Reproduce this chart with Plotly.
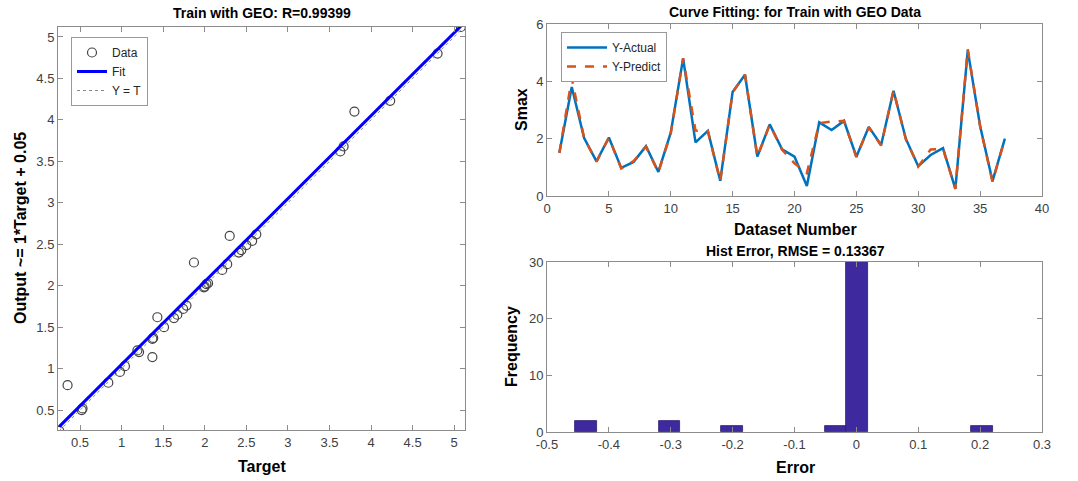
import plotly.graph_objects as go

# ---------------- data ----------------
dataset_number = list(range(1, 38))
y_actual = [1.51, 3.80, 2.02, 1.21, 2.04, 0.98, 1.19, 1.74, 0.84, 2.21,
            4.80, 1.87, 2.27, 0.53, 3.63, 4.23, 1.38, 2.50, 1.63, 1.37,
            0.35, 2.57, 2.30, 2.62, 1.37, 2.41, 1.78, 3.67, 1.99, 1.04,
            1.43, 1.67, 0.25, 5.08, 2.44, 0.52, 2.00]
y_predict = [1.50, 4.10, 2.02, 1.20, 2.03, 0.96, 1.22, 1.72, 0.83, 2.19,
             4.80, 2.28, 2.26, 0.52, 3.62, 4.23, 1.37, 2.49, 1.61, 1.14,
             0.80, 2.54, 2.60, 2.62, 1.36, 2.40, 1.76, 3.68, 1.98, 1.03,
             1.62, 1.65, 0.25, 5.12, 2.43, 0.50, 1.99]
fit_slope = 1.0
fit_intercept = 0.05

hist_centers = [-0.437, -0.302, -0.201, -0.033, 0.001, 0.203]
hist_counts = [2, 2, 1, 1, 30, 1]
hist_bin_width = 0.034

scatter_ticks = [0.5, 1, 1.5, 2, 2.5, 3, 3.5, 4, 4.5, 5]
line_xticks = [0, 5, 10, 15, 20, 25, 30, 35, 40]
line_yticks = [0, 2, 4, 6]
hist_xticks = [-0.5, -0.4, -0.3, -0.2, -0.1, 0, 0.1, 0.2, 0.3]
hist_xlabels = ["-0.5", "-0.4", "-0.3", "-0.2", "-0.1", "0", "0.1", "0.2", "0.3"]
hist_yticks = [0, 10, 20, 30]

# ---------------- figure ----------------
W, H = 1078, 481
FONT = "Liberation Sans, Arial, Helvetica, sans-serif"
TICKC = "#404040"
AXC = "#8c8c8c"

def px_x(p):
    return p / W

def px_y(p):
    return 1 - p / H

fig = go.Figure()

tmin, tmax = min(y_actual), max(y_actual)

# Left: regression plot
fig.add_trace(go.Scatter(
    x=y_actual, y=y_predict, mode="markers", name="Data",
    marker=dict(symbol="circle-open", size=9, color="#444444", line=dict(width=1.2)),
    xaxis="x", yaxis="y", legend="legend"))
fig.add_trace(go.Scatter(
    x=[tmin, tmax], y=[fit_slope * tmin + fit_intercept, fit_slope * tmax + fit_intercept],
    mode="lines", name="Fit", line=dict(color="#0000ff", width=3),
    xaxis="x", yaxis="y", legend="legend"))
fig.add_trace(go.Scatter(
    x=[tmin, tmax], y=[tmin, tmax], mode="lines", name="Y = T",
    line=dict(color="#888888", width=1, dash="dot"),
    xaxis="x", yaxis="y", legend="legend"))

# Top right: curve fitting
fig.add_trace(go.Scatter(
    x=dataset_number, y=y_actual, mode="lines", name="Y-Actual",
    line=dict(color="#0072BD", width=2.5),
    xaxis="x2", yaxis="y2", legend="legend2"))
fig.add_trace(go.Scatter(
    x=dataset_number, y=y_predict, mode="lines", name="Y-Predict",
    line=dict(color="#D95319", width=2.5, dash="dash"),
    xaxis="x2", yaxis="y2", legend="legend2"))

# Bottom right: histogram
fig.add_trace(go.Bar(
    x=hist_centers, y=hist_counts, width=hist_bin_width,
    marker=dict(color="#3E2A9E", line=dict(color="#2a1d70", width=0.8)),
    showlegend=False, xaxis="x3", yaxis="y3"))

common_axis = dict(
    showgrid=False, zeroline=False, showline=True, linecolor=AXC, linewidth=1,
    mirror="ticks", ticks="inside", ticklen=5, tickcolor=AXC, automargin=False,
    tickfont=dict(family=FONT, size=13, color=TICKC),
)

fig.update_layout(
    width=W, height=H,
    margin=dict(l=0, r=0, t=0, b=0, autoexpand=False),
    paper_bgcolor="white", plot_bgcolor="white",
    font=dict(family=FONT, color="#262626"),
    xaxis=dict(common_axis, domain=[px_x(58), px_x(465)], range=[0.235, 5.13],
               tickvals=scatter_ticks, anchor="y"),
    yaxis=dict(common_axis, domain=[px_y(430), px_y(27)], range=[0.26, 5.12],
               tickvals=scatter_ticks, anchor="x"),
    xaxis2=dict(common_axis, domain=[px_x(547), px_x(1042)], range=[0, 40],
                tickvals=line_xticks, anchor="y2"),
    yaxis2=dict(common_axis, domain=[px_y(196), px_y(24)], range=[0, 6],
                tickvals=line_yticks, anchor="x2"),
    xaxis3=dict(common_axis, domain=[px_x(547), px_x(1042)], range=[-0.5, 0.3],
                tickvals=hist_xticks, ticktext=hist_xlabels, anchor="y3"),
    yaxis3=dict(common_axis, domain=[px_y(432), px_y(262)], range=[0, 30],
                tickvals=hist_yticks, anchor="x3"),
    legend=dict(x=px_x(71), y=px_y(37), xanchor="left", yanchor="top",
                bgcolor="white", bordercolor="#999999", borderwidth=1,
                font=dict(family=FONT, size=12, color="#262626"),
                tracegroupgap=0, itemwidth=30),
    legend2=dict(x=px_x(561), y=px_y(32), xanchor="left", yanchor="top",
                 bgcolor="white", bordercolor="#999999", borderwidth=1,
                 font=dict(family=FONT, size=12, color="#262626"),
                 tracegroupgap=0, itemwidth=40),
    bargap=0,
)

def ann(text, x, y, size=14, angle=0, xanchor="center", yanchor="middle"):
    fig.add_annotation(text=text, x=px_x(x), y=px_y(y), xref="paper", yref="paper",
                       showarrow=False, textangle=angle, xanchor=xanchor, yanchor=yanchor,
                       font=dict(family=FONT, size=size, color="black"))

# titles
ann("<b>Train with GEO: R=0.99399</b>", 262, 13, size=14)
ann("<b>Curve Fitting: for Train with GEO Data</b>", 795, 12, size=14)
ann("<b>Hist Error, RMSE = 0.13367</b>", 795, 251, size=14)
# axis labels
ann("<b>Target</b>", 262, 466, size=16)
ann("<b>Output ~= 1*Target + 0.05</b>", 20, 228, size=16, angle=-90)
ann("<b>Dataset Number</b>", 795, 229, size=16)
ann("<b>Smax</b>", 521, 110, size=16, angle=-90)
ann("<b>Error</b>", 795, 467, size=16)
ann("<b>Frequency</b>", 511, 347, size=16, angle=-90)

fig.write_html("out.html", config={"displayModeBar": False},
               post_script="document.body.style.margin='0';document.body.style.overflow='hidden';")
